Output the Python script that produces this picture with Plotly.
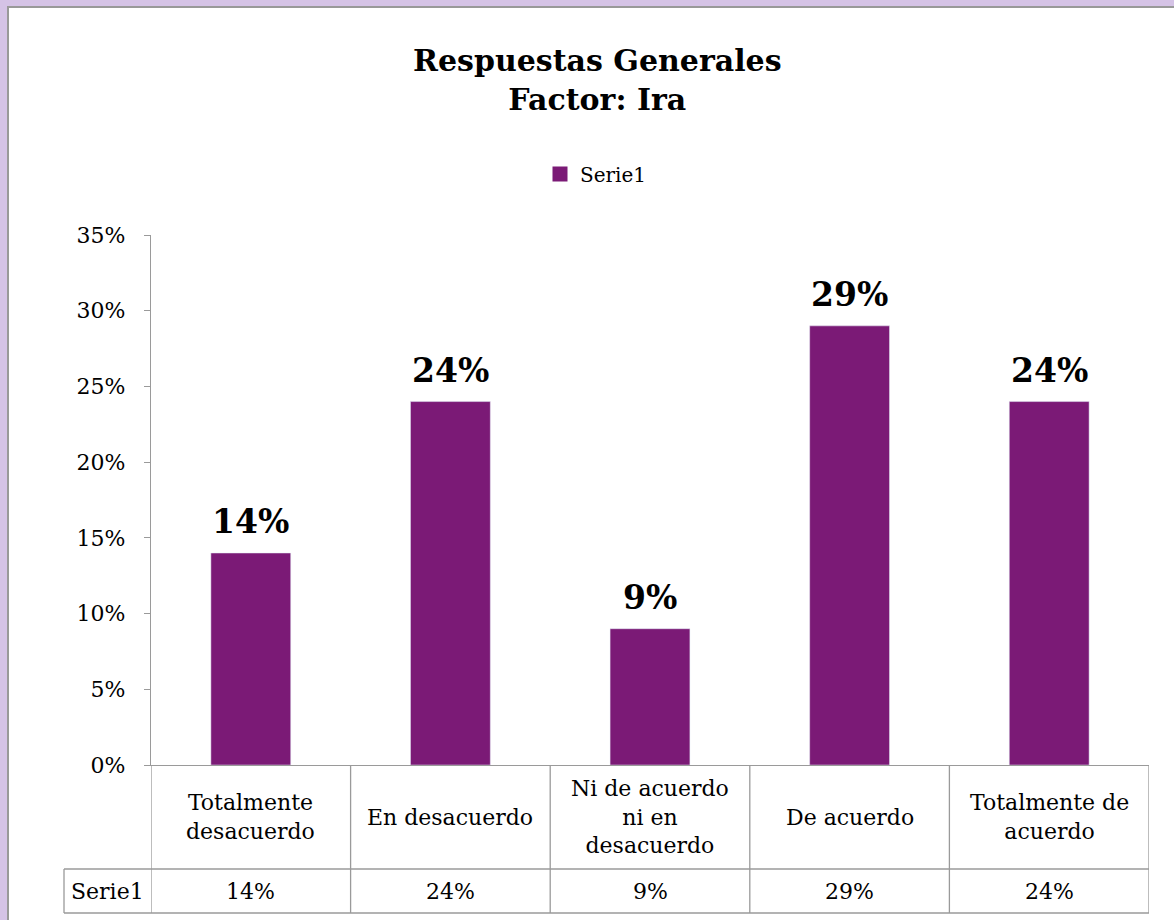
import plotly.graph_objects as go

categories = ["Totalmente<br>desacuerdo", "En desacuerdo", "Ni de acuerdo<br>ni en<br>desacuerdo", "De acuerdo", "Totalmente de<br>acuerdo"]
values = [14, 24, 9, 29, 24]
series_name = "Serie1"
title_lines = ["Respuestas Generales", "Factor: Ira"]
y_ticks = [0, 5, 10, 15, 20, 25, 30, 35]

BAR = "#7B1A76"
LAV = "#D5C3E6"
GRID = "#9A9A9A"
FONT = "DejaVu Serif"

W, H = 1174, 920
L, R, T, B = 151, 1149, 235, 765
pw, ph = R - L, B - T

def px(x):
    return (x - L) / pw

def py(y):
    return (B - y) / ph

xs = list(range(len(categories)))
fig = go.Figure()
fig.add_trace(go.Bar(x=xs, y=values, name=series_name, marker_color=BAR, width=0.4,
                     showlegend=False))
# legend entry with a larger square swatch
fig.add_trace(go.Scatter(x=[None], y=[None], mode="markers", name=series_name,
                         marker=dict(symbol="square", size=15, color=BAR), showlegend=True))

shapes = []
shapes.append(dict(type="rect", xref="paper", yref="paper", x0=px(8), x1=px(1180), y0=py(930), y1=py(7),
                   fillcolor="white", line_width=0, layer="below"))
shapes.append(dict(type="line", xref="paper", yref="paper", x0=px(7), x1=px(1180), y0=py(7), y1=py(7),
                   line=dict(color="#999999", width=2)))
shapes.append(dict(type="line", xref="paper", yref="paper", x0=px(8), x1=px(8), y0=py(6), y1=py(930),
                   line=dict(color="#999999", width=2)))

hdr_bot, val_bot = 869, 913
ln = dict(color=GRID, width=1.3)
for i in range(len(categories) + 1):
    xx = i - 0.5
    shapes.append(dict(type="line", xref="x", yref="paper", x0=xx, x1=xx, y0=py(B), y1=py(val_bot), line=ln))
shapes.append(dict(type="line", xref="paper", yref="paper", x0=px(64), x1=1, y0=py(hdr_bot), y1=py(hdr_bot), line=ln))
shapes.append(dict(type="line", xref="paper", yref="paper", x0=px(64), x1=1, y0=py(val_bot), y1=py(val_bot), line=ln))
shapes.append(dict(type="line", xref="paper", yref="paper", x0=px(64), x1=px(64), y0=py(hdr_bot), y1=py(val_bot), line=ln))

annotations = []
for i, (c, v) in enumerate(zip(categories, values)):
    annotations.append(dict(x=i, y=v, xref="x", yref="y", text=f"<b>{v}%</b>", showarrow=False,
                            yanchor="bottom", yshift=10, font=dict(family=FONT, size=33, color="black")))
    annotations.append(dict(x=i, y=py((B + hdr_bot) / 2), xref="x", yref="paper", text=c, showarrow=False,
                            xanchor="center", yanchor="middle", font=dict(family=FONT, size=22, color="black")))
    annotations.append(dict(x=i, y=py((hdr_bot + val_bot) / 2), xref="x", yref="paper", text=f"{v}%",
                            showarrow=False, xanchor="center", yanchor="middle",
                            font=dict(family=FONT, size=22, color="black")))
annotations.append(dict(x=px(107), y=py((hdr_bot + val_bot) / 2), xref="paper", yref="paper", text=series_name,
                        showarrow=False, xanchor="center", yanchor="middle",
                        font=dict(family=FONT, size=22, color="black")))
annotations.append(dict(x=px(597), y=py(80), xref="paper", yref="paper",
                        text="<b>" + "<br>".join(title_lines) + "</b>", showarrow=False,
                        xanchor="center", yanchor="middle",
                        font=dict(family=FONT, size=30, color="black")))

fig.update_layout(
    width=W, height=H,
    margin=dict(l=L, r=W - R, t=T, b=H - B, pad=0),
    paper_bgcolor=LAV, plot_bgcolor="white",
    font=dict(family=FONT, size=22, color="black"),
    shapes=shapes, annotations=annotations,
    legend=dict(orientation="h", x=px(596), xanchor="center", y=py(174), yanchor="middle",
                font=dict(family=FONT, size=20), bgcolor="rgba(0,0,0,0)", itemwidth=30),
    xaxis=dict(range=[-0.5, len(categories) - 0.5], showticklabels=False, showgrid=False, zeroline=False,
               showline=True, linecolor=GRID, linewidth=1.3, ticks=""),
    yaxis=dict(range=[0, 35], tickvals=y_ticks, ticktext=[f"{t}%" for t in y_ticks], showgrid=False,
               zeroline=False, showline=True, linecolor=GRID, linewidth=1.3, ticks="outside", ticklen=6,
               tickcolor=GRID, tickwidth=1.3, ticklabelstandoff=14, tickfont=dict(family=FONT, size=22)),
)

fig.write_html("out.html", config={"displayModeBar": False},
               post_script="document.body.style.margin='0';document.body.style.padding='0';"
                           "document.body.style.overflow='hidden';")
